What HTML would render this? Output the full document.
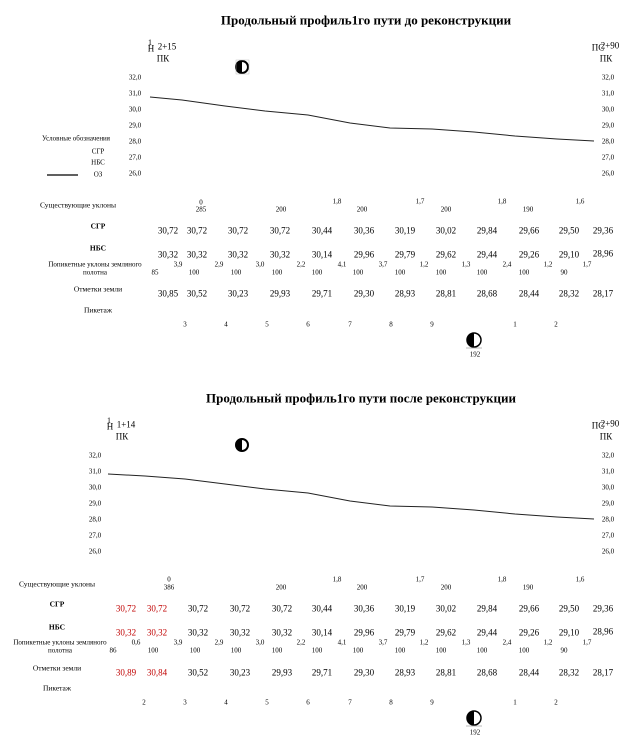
<!DOCTYPE html>
<html><head><meta charset="utf-8"><style>
body{margin:0;width:624px;height:739px;background:#fff;position:relative;overflow:hidden;font-family:"Liberation Serif",serif;color:#000}
.t{position:absolute;transform:translate(-50%,-50%);white-space:nowrap;font-size:9px;line-height:1}
.s{font-size:7px}
.b{font-weight:bold}
.r{color:#c00000}
.h{font-size:13px;font-weight:bold}
.l{font-size:7.5px}
svg{position:absolute;left:0;top:0}
</style></head><body>
<svg width="624" height="739">
<polyline fill="none" stroke="#222" stroke-width="1" points="150,97 182,100 225,106 265,111 308,115 350,123 390,128 432,129 474,132 515,136 557,139 594,141"/>
<line x1="47" y1="175" x2="78" y2="175" stroke="#000" stroke-width="1.2"/>
<polyline fill="none" stroke="#222" stroke-width="1" points="108,474 145,476 185,479 225,484 265,489 308,493 350,501 390,506 432,507 474,510 515,514 557,517 594,519"/>
<g id="i1"><circle cx="242" cy="67" r="6" fill="#fff" stroke="#000" stroke-width="2"/><path d="M242 61 A6 6 0 0 0 242 73 Z" fill="#000"/><rect x="236" y="60" width="13" height="14" fill="none" stroke="#bbb" stroke-width=".5"/></g>
<circle cx="242" cy="445" r="6" fill="#fff" stroke="#000" stroke-width="2"/><path d="M242 439 A6 6 0 0 0 242 451 Z" fill="#000"/>
<circle cx="474" cy="340" r="7" fill="#fff" stroke="#000" stroke-width="1.5"/><path d="M474 333 A7 7 0 0 0 474 347 Z" fill="#000"/><line x1="466" y1="348" x2="482" y2="348" stroke="#888" stroke-width=".6"/>
<circle cx="474" cy="718" r="7" fill="#fff" stroke="#000" stroke-width="1.5"/><path d="M474 711 A7 7 0 0 0 474 725 Z" fill="#000"/><line x1="466" y1="726" x2="482" y2="726" stroke="#888" stroke-width=".6"/>
</svg>

<!-- TOP -->
<div class="t h" style="left:366px;top:20px">Продольный профиль1го пути до реконструкции</div>
<div class="t" style="left:150px;top:43px;font-size:8px">1</div>
<div class="t" style="left:151px;top:49px">Н</div>
<div class="t" style="left:167px;top:47px">2+15</div>
<div class="t" style="left:163px;top:59px">ПК</div>
<div class="t" style="left:598px;top:48px">ПС</div>
<div class="t" style="left:610px;top:46px">2+90</div>
<div class="t" style="left:606px;top:59px">ПК</div>
<div class="t s" style="left:135px;top:78px">32,0</div><div class="t s" style="left:135px;top:94px">31,0</div><div class="t s" style="left:135px;top:110px">30,0</div><div class="t s" style="left:135px;top:126px">29,0</div><div class="t s" style="left:135px;top:142px">28,0</div><div class="t s" style="left:135px;top:158px">27,0</div><div class="t s" style="left:135px;top:174px">26,0</div>
<div class="t s" style="left:608px;top:78px">32,0</div><div class="t s" style="left:608px;top:94px">31,0</div><div class="t s" style="left:608px;top:110px">30,0</div><div class="t s" style="left:608px;top:126px">29,0</div><div class="t s" style="left:608px;top:142px">28,0</div><div class="t s" style="left:608px;top:158px">27,0</div><div class="t s" style="left:608px;top:174px">26,0</div>
<div class="t s" style="left:76px;top:139px">Условные обозначения</div>
<div class="t s" style="left:98px;top:152px">СГР</div><div class="t s" style="left:98px;top:163px">НБС</div><div class="t s" style="left:98px;top:175px">ОЗ</div>

<div class="t l" style="left:78px;top:205px">Существующие уклоны</div>
<div class="t b l" style="left:98px;top:226px">СГР</div>
<div class="t b l" style="left:98px;top:248px">НБС</div>
<div class="t s" style="left:95px;top:265px">Попикетные уклоны земляного</div>
<div class="t s" style="left:95px;top:273px">полотна</div>
<div class="t l" style="left:98px;top:289px">Отметки земли</div>
<div class="t l" style="left:98px;top:310px">Пикетаж</div>

<div class="t s" style="left:201px;top:203px">0</div><div class="t s" style="left:201px;top:210px">285</div>
<div class="t s" style="left:281px;top:210px">200</div><div class="t s" style="left:337px;top:202px">1,8</div><div class="t s" style="left:362px;top:210px">200</div><div class="t s" style="left:420px;top:202px">1,7</div><div class="t s" style="left:446px;top:210px">200</div><div class="t s" style="left:502px;top:202px">1,8</div><div class="t s" style="left:528px;top:210px">190</div><div class="t s" style="left:580px;top:202px">1,6</div>

<div class="t" style="left:168px;top:231px">30,72</div><div class="t" style="left:197px;top:231px">30,72</div><div class="t" style="left:238px;top:231px">30,72</div><div class="t" style="left:280px;top:231px">30,72</div><div class="t" style="left:322px;top:231px">30,44</div><div class="t" style="left:364px;top:231px">30,36</div><div class="t" style="left:405px;top:231px">30,19</div><div class="t" style="left:446px;top:231px">30,02</div><div class="t" style="left:487px;top:231px">29,84</div><div class="t" style="left:529px;top:231px">29,66</div><div class="t" style="left:569px;top:231px">29,50</div><div class="t" style="left:603px;top:231px">29,36</div>
<div class="t" style="left:168px;top:255px">30,32</div><div class="t" style="left:197px;top:255px">30,32</div><div class="t" style="left:238px;top:255px">30,32</div><div class="t" style="left:280px;top:255px">30,32</div><div class="t" style="left:322px;top:255px">30,14</div><div class="t" style="left:364px;top:255px">29,96</div><div class="t" style="left:405px;top:255px">29,79</div><div class="t" style="left:446px;top:255px">29,62</div><div class="t" style="left:487px;top:255px">29,44</div><div class="t" style="left:529px;top:255px">29,26</div><div class="t" style="left:569px;top:255px">29,10</div><div class="t" style="left:603px;top:254px">28,96</div>
<div class="t s" style="left:155px;top:273px">85</div><div class="t s" style="left:178px;top:265px">3,9</div><div class="t s" style="left:194px;top:273px">100</div><div class="t s" style="left:219px;top:265px">2,9</div><div class="t s" style="left:236px;top:273px">100</div><div class="t s" style="left:260px;top:265px">3,0</div><div class="t s" style="left:277px;top:273px">100</div><div class="t s" style="left:301px;top:265px">2,2</div><div class="t s" style="left:317px;top:273px">100</div><div class="t s" style="left:342px;top:265px">4,1</div><div class="t s" style="left:358px;top:273px">100</div><div class="t s" style="left:383px;top:265px">3,7</div><div class="t s" style="left:400px;top:273px">100</div><div class="t s" style="left:424px;top:265px">1,2</div><div class="t s" style="left:441px;top:273px">100</div><div class="t s" style="left:466px;top:265px">1,3</div><div class="t s" style="left:482px;top:273px">100</div><div class="t s" style="left:507px;top:265px">2,4</div><div class="t s" style="left:524px;top:273px">100</div><div class="t s" style="left:548px;top:265px">1,2</div><div class="t s" style="left:564px;top:273px">90</div><div class="t s" style="left:587px;top:265px">1,7</div>
<div class="t" style="left:168px;top:294px">30,85</div><div class="t" style="left:197px;top:294px">30,52</div><div class="t" style="left:238px;top:294px">30,23</div><div class="t" style="left:280px;top:294px">29,93</div><div class="t" style="left:322px;top:294px">29,71</div><div class="t" style="left:364px;top:294px">29,30</div><div class="t" style="left:405px;top:294px">28,93</div><div class="t" style="left:446px;top:294px">28,81</div><div class="t" style="left:487px;top:294px">28,68</div><div class="t" style="left:529px;top:294px">28,44</div><div class="t" style="left:569px;top:294px">28,32</div><div class="t" style="left:603px;top:294px">28,17</div>
<div class="t s" style="left:185px;top:325px">3</div><div class="t s" style="left:226px;top:325px">4</div><div class="t s" style="left:267px;top:325px">5</div><div class="t s" style="left:308px;top:325px">6</div><div class="t s" style="left:350px;top:325px">7</div><div class="t s" style="left:391px;top:325px">8</div><div class="t s" style="left:432px;top:325px">9</div><div class="t s" style="left:515px;top:325px">1</div><div class="t s" style="left:556px;top:325px">2</div>
<div class="t s" style="left:475px;top:355px">192</div>

<!-- BOTTOM -->
<div class="t h" style="left:361px;top:398px">Продольный профиль1го пути после реконструкции</div>
<div class="t" style="left:109px;top:421px;font-size:8px">1</div>
<div class="t" style="left:110px;top:427px">Н</div>
<div class="t" style="left:126px;top:425px">1+14</div>
<div class="t" style="left:122px;top:437px">ПК</div>
<div class="t" style="left:598px;top:426px">ПС</div>
<div class="t" style="left:610px;top:424px">2+90</div>
<div class="t" style="left:606px;top:437px">ПК</div>
<div class="t s" style="left:95px;top:456px">32,0</div><div class="t s" style="left:95px;top:472px">31,0</div><div class="t s" style="left:95px;top:488px">30,0</div><div class="t s" style="left:95px;top:504px">29,0</div><div class="t s" style="left:95px;top:520px">28,0</div><div class="t s" style="left:95px;top:536px">27,0</div><div class="t s" style="left:95px;top:552px">26,0</div>
<div class="t s" style="left:608px;top:456px">32,0</div><div class="t s" style="left:608px;top:472px">31,0</div><div class="t s" style="left:608px;top:488px">30,0</div><div class="t s" style="left:608px;top:504px">29,0</div><div class="t s" style="left:608px;top:520px">28,0</div><div class="t s" style="left:608px;top:536px">27,0</div><div class="t s" style="left:608px;top:552px">26,0</div>

<div class="t l" style="left:57px;top:584px">Существующие уклоны</div>
<div class="t b l" style="left:57px;top:604px">СГР</div>
<div class="t b l" style="left:57px;top:627px">НБС</div>
<div class="t s" style="left:60px;top:643px">Попикетные уклоны земляного</div>
<div class="t s" style="left:60px;top:651px">полотна</div>
<div class="t l" style="left:57px;top:668px">Отметки земли</div>
<div class="t l" style="left:57px;top:688px">Пикетаж</div>

<div class="t s" style="left:169px;top:580px">0</div><div class="t s" style="left:169px;top:588px">386</div>
<div class="t s" style="left:281px;top:588px">200</div><div class="t s" style="left:337px;top:580px">1,8</div><div class="t s" style="left:362px;top:588px">200</div><div class="t s" style="left:420px;top:580px">1,7</div><div class="t s" style="left:446px;top:588px">200</div><div class="t s" style="left:502px;top:580px">1,8</div><div class="t s" style="left:528px;top:588px">190</div><div class="t s" style="left:580px;top:580px">1,6</div>

<div class="t r" style="left:126px;top:609px">30,72</div><div class="t r" style="left:157px;top:609px">30,72</div><div class="t" style="left:198px;top:609px">30,72</div><div class="t" style="left:240px;top:609px">30,72</div><div class="t" style="left:282px;top:609px">30,72</div><div class="t" style="left:322px;top:609px">30,44</div><div class="t" style="left:364px;top:609px">30,36</div><div class="t" style="left:405px;top:609px">30,19</div><div class="t" style="left:446px;top:609px">30,02</div><div class="t" style="left:487px;top:609px">29,84</div><div class="t" style="left:529px;top:609px">29,66</div><div class="t" style="left:569px;top:609px">29,50</div><div class="t" style="left:603px;top:609px">29,36</div>
<div class="t r" style="left:126px;top:633px">30,32</div><div class="t r" style="left:157px;top:633px">30,32</div><div class="t" style="left:198px;top:633px">30,32</div><div class="t" style="left:240px;top:633px">30,32</div><div class="t" style="left:282px;top:633px">30,32</div><div class="t" style="left:322px;top:633px">30,14</div><div class="t" style="left:364px;top:633px">29,96</div><div class="t" style="left:405px;top:633px">29,79</div><div class="t" style="left:446px;top:633px">29,62</div><div class="t" style="left:487px;top:633px">29,44</div><div class="t" style="left:529px;top:633px">29,26</div><div class="t" style="left:569px;top:633px">29,10</div><div class="t" style="left:603px;top:632px">28,96</div>
<div class="t s" style="left:113px;top:651px">86</div><div class="t s" style="left:136px;top:643px">0,6</div><div class="t s" style="left:153px;top:651px">100</div><div class="t s" style="left:178px;top:643px">3,9</div><div class="t s" style="left:195px;top:651px">100</div><div class="t s" style="left:219px;top:643px">2,9</div><div class="t s" style="left:236px;top:651px">100</div><div class="t s" style="left:260px;top:643px">3,0</div><div class="t s" style="left:277px;top:651px">100</div><div class="t s" style="left:301px;top:643px">2,2</div><div class="t s" style="left:317px;top:651px">100</div><div class="t s" style="left:342px;top:643px">4,1</div><div class="t s" style="left:358px;top:651px">100</div><div class="t s" style="left:383px;top:643px">3,7</div><div class="t s" style="left:400px;top:651px">100</div><div class="t s" style="left:424px;top:643px">1,2</div><div class="t s" style="left:441px;top:651px">100</div><div class="t s" style="left:466px;top:643px">1,3</div><div class="t s" style="left:482px;top:651px">100</div><div class="t s" style="left:507px;top:643px">2,4</div><div class="t s" style="left:524px;top:651px">100</div><div class="t s" style="left:548px;top:643px">1,2</div><div class="t s" style="left:564px;top:651px">90</div><div class="t s" style="left:587px;top:643px">1,7</div>
<div class="t r" style="left:126px;top:673px">30,89</div><div class="t r" style="left:157px;top:673px">30,84</div><div class="t" style="left:198px;top:673px">30,52</div><div class="t" style="left:240px;top:673px">30,23</div><div class="t" style="left:282px;top:673px">29,93</div><div class="t" style="left:322px;top:673px">29,71</div><div class="t" style="left:364px;top:673px">29,30</div><div class="t" style="left:405px;top:673px">28,93</div><div class="t" style="left:446px;top:673px">28,81</div><div class="t" style="left:487px;top:673px">28,68</div><div class="t" style="left:529px;top:673px">28,44</div><div class="t" style="left:569px;top:673px">28,32</div><div class="t" style="left:603px;top:673px">28,17</div>
<div class="t s" style="left:144px;top:703px">2</div><div class="t s" style="left:185px;top:703px">3</div><div class="t s" style="left:226px;top:703px">4</div><div class="t s" style="left:267px;top:703px">5</div><div class="t s" style="left:308px;top:703px">6</div><div class="t s" style="left:350px;top:703px">7</div><div class="t s" style="left:391px;top:703px">8</div><div class="t s" style="left:432px;top:703px">9</div><div class="t s" style="left:515px;top:703px">1</div><div class="t s" style="left:556px;top:703px">2</div>
<div class="t s" style="left:475px;top:733px">192</div>
</body></html>
